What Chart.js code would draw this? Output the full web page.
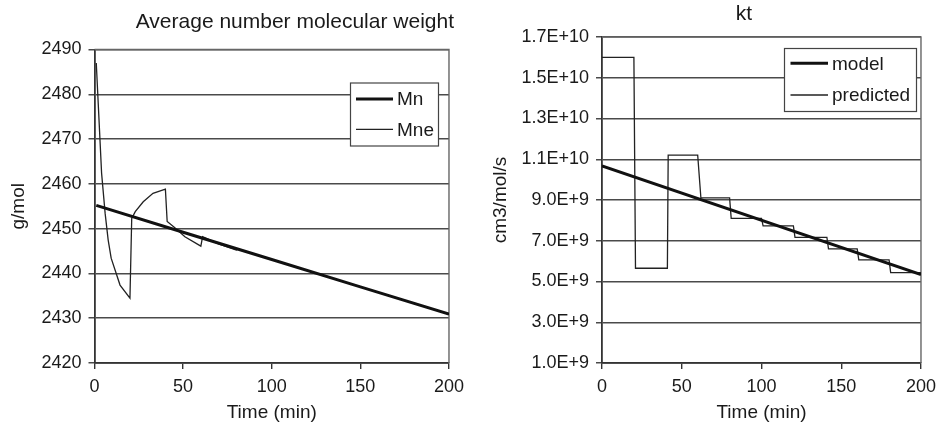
<!DOCTYPE html>
<html>
<head>
<meta charset="utf-8">
<script src="https://cdn.jsdelivr.net/npm/chart.js@4.4.1/dist/chart.umd.min.js"></script>
<style>
  body { margin: 0; background: #fff; }
  #wrap { position: relative; width: 943px; height: 422px; overflow: hidden; font-family: "Liberation Sans", Arial, sans-serif; color: #1a1a1a; }
  canvas { position: absolute; top: 0; }
  .title { position: absolute; font-size: 21px; line-height: 21px; white-space: nowrap; }
</style>
</head>
<body>
<div id="wrap">
  <canvas id="mnChart" width="471" height="422" style="left:0"></canvas>
  <canvas id="ktChart" width="472" height="422" style="left:471px"></canvas>
  <div class="title" style="right:489px; top:10px;">Average number molecular weight</div>
  <div class="title" style="left:644px; width:200px; text-align:center; top:2px;">kt</div>
</div>
<script>
// left chart: average number molecular weight
const mnTime = [1, 50, 100, 150, 200];
const mnValue = [2455.2, 2449.2, 2443.1, 2437.0, 2430.9];
const mneTime = [1, 4, 6, 7.7, 9.4, 14.4, 20, 21, 23, 27.5, 33, 40, 41, 45, 51, 60, 61, 70, 80, 81, 100, 150, 200];
const mneValue = [2487, 2462.4, 2453.4, 2447.5, 2443.4, 2437.4, 2434.5, 2452.3, 2453.8, 2456, 2457.9, 2458.8,
  2451.6, 2450.3, 2448.2, 2446.1, 2448.2, 2446.6, 2445.2, 2445.4, 2443.1, 2437.0, 2430.9];

// right chart: kt
const ktTime = [0, 200];
const ktModel = [1.067e10, 5.34e9];
const predTime = [0, 20, 21, 41, 41.5, 60, 62, 80, 81, 100, 101, 120, 121, 141, 142, 160, 161, 180, 181, 200];
const predValue = [1.6e10, 1.6e10, 5.65e9, 5.65e9, 1.12e10, 1.12e10, 9.1e9, 9.1e9, 8.1e9, 8.1e9,
  7.73e9, 7.73e9, 7.17e9, 7.17e9, 6.6e9, 6.6e9, 6.06e9, 6.06e9, 5.44e9, 5.44e9];

const FONT = "'Liberation Sans', Arial, sans-serif";
const TEXT = "#1a1a1a";
const pts = (xs, ys) => xs.map((x, i) => ({ x: x, y: ys[i] }));

// legend drawn as a boxed key inside the plot
const boxLegend = {
  id: "boxLegend",
  afterDatasetsDraw(chart, args, o) {
    const ctx = chart.ctx;
    ctx.save();
    ctx.fillStyle = "#fff";
    ctx.fillRect(o.left, o.top, o.width, o.height);
    ctx.strokeStyle = "#444";
    ctx.lineWidth = 1.2;
    ctx.strokeRect(o.left + 0.5, o.top + 0.5, o.width, o.height);
    ctx.font = "19px " + FONT;
    ctx.textBaseline = "middle";
    chart.data.datasets.forEach((ds, i) => {
      const y = o.firstRow + i * o.rowGap;
      ctx.beginPath();
      ctx.moveTo(o.left + o.lineStart, y);
      ctx.lineTo(o.left + o.lineStart + o.lineLen, y);
      ctx.strokeStyle = ds.borderColor;
      ctx.lineWidth = ds.borderWidth;
      ctx.stroke();
      ctx.fillStyle = TEXT;
      ctx.fillText(ds.label, o.left + o.lineStart + o.lineLen + 4, y + 1);
    });
    ctx.restore();
  }
};

// thin top and right edge of the plot box
const frame = {
  id: "frame",
  beforeDatasetsDraw(chart) {
    const { ctx, chartArea: a } = chart;
    ctx.save();
    ctx.strokeStyle = "#666";
    ctx.lineWidth = 1.4;
    ctx.beginPath();
    ctx.moveTo(a.left, a.top);
    ctx.lineTo(a.right, a.top);
    ctx.lineTo(a.right, a.bottom);
    ctx.stroke();
    ctx.restore();
  }
};

function xScale() {
  return {
    type: "linear",
    min: 0,
    max: 200,
    ticks: { stepSize: 50, color: TEXT, font: { size: 18, family: FONT }, padding: 7, maxRotation: 0 },
    grid: { drawOnChartArea: false, tickLength: 6, color: "#333", lineWidth: 1.4 },
    border: { color: "#333", width: 1.8 },
    title: { display: true, text: "Time (min)", color: TEXT, font: { size: 19, family: FONT, lineHeight: 1 }, padding: 0 },
    afterFit(s) { s.height = 59; }
  };
}

function yScale(min, max, step, title, width, titlePad, fmt) {
  return {
    min: min,
    max: max,
    ticks: { stepSize: step, color: TEXT, font: { size: 18, family: FONT }, padding: 7, callback: fmt },
    grid: { color: "#4a4a4a", lineWidth: 1.5, tickLength: 6 },
    border: { color: "#333", width: 1.8 },
    title: { display: true, text: title, color: TEXT, font: { size: 19, family: FONT, lineHeight: 1 }, padding: { top: titlePad, bottom: 0 } },
    afterFit(s) { s.width = width; }
  };
}

new Chart(document.getElementById("mnChart"), {
  type: "line",
  data: {
    datasets: [
      { label: "Mn", data: pts(mnTime, mnValue), borderColor: "#111", borderWidth: 3, pointRadius: 0, tension: 0 },
      { label: "Mne", data: pts(mneTime, mneValue), borderColor: "#222", borderWidth: 1.3, pointRadius: 0, tension: 0 }
    ]
  },
  options: {
    responsive: false,
    animation: false,
    layout: { padding: { top: 49.5, right: 20, left: 0, bottom: 0 } },
    scales: {
      x: xScale(),
      y: yScale(2420, 2490, 10, "g/mol", 94.5, 9.5, (v) => v)
    },
    plugins: {
      legend: { display: false },
      tooltip: { enabled: false },
      boxLegend: { left: 350, top: 82.5, width: 88, height: 63, firstRow: 99, rowGap: 30.3, lineStart: 6, lineLen: 37 }
    }
  },
  plugins: [frame, boxLegend]
});

new Chart(document.getElementById("ktChart"), {
  type: "line",
  data: {
    datasets: [
      { label: "model", data: pts(ktTime, ktModel), borderColor: "#111", borderWidth: 3, pointRadius: 0, tension: 0 },
      { label: "predicted", data: pts(predTime, predValue), borderColor: "#222", borderWidth: 1.3, pointRadius: 0, tension: 0 }
    ]
  },
  options: {
    responsive: false,
    animation: false,
    layout: { padding: { top: 37, right: 17, left: 0, bottom: 0 } },
    scales: {
      x: xScale(),
      y: yScale(1e9, 1.7e10, 2e9, "cm3/mol/s", 131, 20.5,
        (v) => Number(v).toExponential(1).toUpperCase())
    },
    plugins: {
      legend: { display: false },
      tooltip: { enabled: false },
      boxLegend: { left: 313, top: 48, width: 132, height: 63, firstRow: 63.3, rowGap: 31.7, lineStart: 6.5, lineLen: 37.5 }
    }
  },
  plugins: [frame, boxLegend]
});
</script>
</body>
</html>
